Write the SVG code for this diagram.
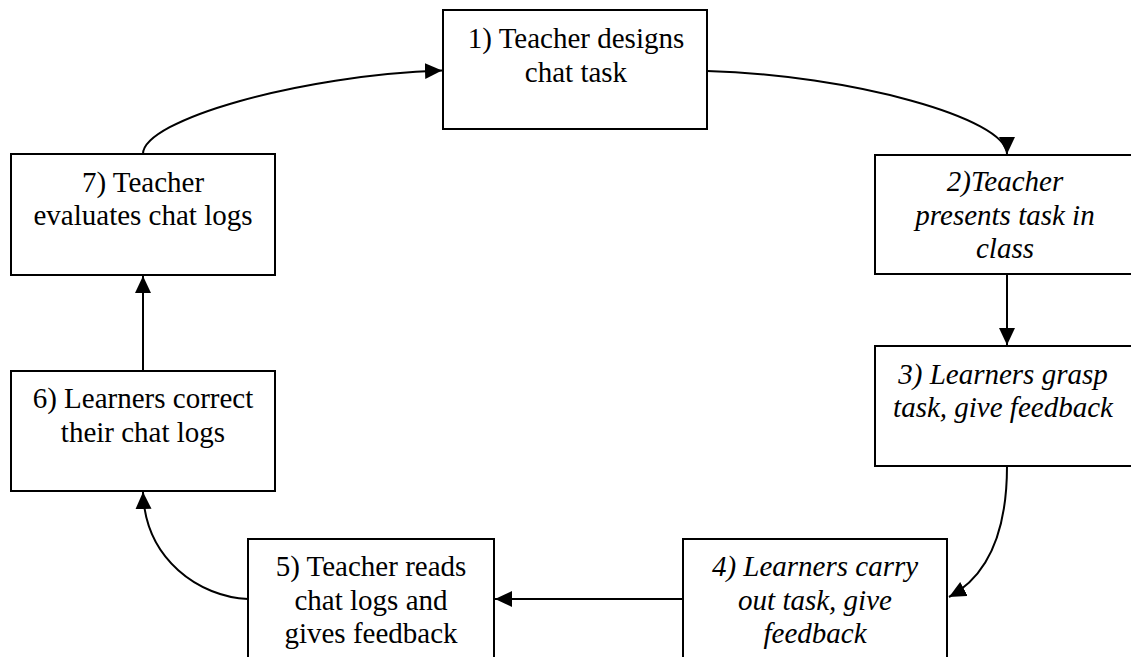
<svg xmlns="http://www.w3.org/2000/svg" width="1131" height="657" viewBox="0 0 1131 657">
  <style>
    .box { fill: #ffffff; stroke: #000000; stroke-width: 2; }
    .t { font-family: 'Liberation Serif', 'Times New Roman', 'DejaVu Serif', serif; font-size: 29px; fill: #000000; text-anchor: middle; }
    .it { font-style: italic; }
    .conn { fill: none; stroke: #000000; stroke-width: 2; marker-end: url(#arrow); }
  </style>
  <defs>
    <marker id="arrow" markerUnits="userSpaceOnUse" markerWidth="18" markerHeight="17" refX="17" refY="8" orient="auto" viewBox="0 0 18 17">
      <path d="M0,0 L17,8 L0,16 Z" fill="#000000"/>
    </marker>
  </defs>
  <rect width="1131" height="657" fill="#ffffff"/>

  <g id="connectors">
    <path class="conn" d="M143,154 C143,120 300,75 442,70.5"/>
    <path class="conn" d="M707,71 C850,75 1007,118 1007,154"/>
    <path class="conn" d="M1007,274 L1007,345"/>
    <path class="conn" d="M1007,466 C1007,530 990,575 949,597"/>
    <path class="conn" d="M683,599 L495,599"/>
    <path class="conn" d="M248,599 C200,597 145,560 143,492"/>
    <path class="conn" d="M143,371 L143,276"/>
  </g>

  <g id="node1">
    <rect class="box" x="443" y="10" width="264" height="119"/>
    <text class="t" x="576" y="48">1) Teacher designs</text>
    <text class="t" x="576" y="82">chat task</text>
  </g>
  <g id="node2">
    <rect class="box" x="875" y="155" width="264" height="119"/>
    <text class="t it" x="1005" y="191">2)Teacher</text>
    <text class="t it" x="1005" y="225">presents task in</text>
    <text class="t it" x="1005" y="258">class</text>
  </g>
  <g id="node3">
    <rect class="box" x="875" y="346" width="264" height="120"/>
    <text class="t it" x="1003" y="384">3) Learners grasp</text>
    <text class="t it" x="1003" y="417">task, give feedback</text>
  </g>
  <g id="node4">
    <rect class="box" x="683" y="539" width="264" height="125"/>
    <text class="t it" x="815" y="576">4) Learners carry</text>
    <text class="t it" x="815" y="610">out task, give</text>
    <text class="t it" x="815" y="643">feedback</text>
  </g>
  <g id="node5">
    <rect class="box" x="248" y="539" width="246" height="125"/>
    <text class="t" x="371" y="576">5) Teacher reads</text>
    <text class="t" x="371" y="610">chat logs and</text>
    <text class="t" x="371" y="643">gives feedback</text>
  </g>
  <g id="node6">
    <rect class="box" x="11" y="371" width="264" height="120"/>
    <text class="t" x="143" y="408">6) Learners correct</text>
    <text class="t" x="143" y="442">their chat logs</text>
  </g>
  <g id="node7">
    <rect class="box" x="11" y="154" width="264" height="121"/>
    <text class="t" x="143" y="192">7) Teacher</text>
    <text class="t" x="143" y="225">evaluates chat logs</text>
  </g>
</svg>
